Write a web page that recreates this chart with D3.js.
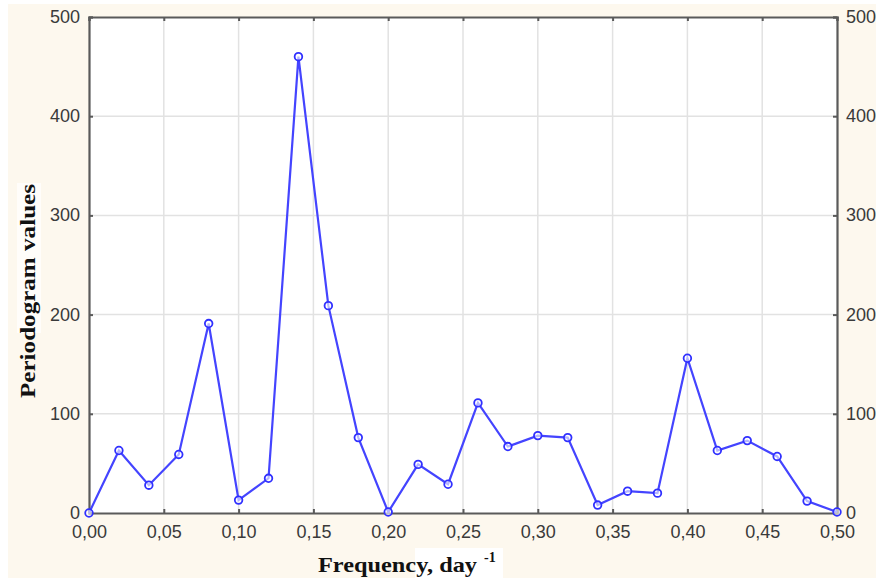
<!DOCTYPE html>
<html>
<head>
<meta charset="UTF-8"/>
<style>
  body { margin: 0; background: #fff; }
</style>
</head>
<body>
<script src="https://cdn.jsdelivr.net/npm/d3@7"></script>
<script>
// periodogram values
var freqs  = [0.00,0.02,0.04,0.06,0.08,0.10,0.12,0.14,0.16,0.18,0.20,0.22,0.24,0.26,
              0.28,0.30,0.32,0.34,0.36,0.38,0.40,0.42,0.44,0.46,0.48,0.50];
var values = [0,63,28,59,191,13,35,460,209,76,1,49,29,111,
              67,78,76,8,22,20,156,63,73,57,12,1];
var xTicks = [0,0.05,0.10,0.15,0.20,0.25,0.30,0.35,0.40,0.45,0.50];
var yTicks = [0,100,200,300,400,500];

var W = 876, H = 578;
// plot box (window.top is reserved, so use other names)
var plotL = 89, plotR = 837, plotT = 17, plotB = 513;

var svg = d3.select("body").append("svg")
    .attr("width", W)
    .attr("height", H);

// cream page background
svg.append("rect")
    .attr("x", 8).attr("y", 4)
    .attr("width", W - 8).attr("height", H - 4)
    .attr("fill", "#fdf8ee");

var x = d3.scaleLinear().domain([0, 0.5]).range([plotL, plotR]);
var y = d3.scaleLinear().domain([0, 500]).range([plotB, plotT]);

// plot area
svg.append("rect")
    .attr("x", plotL).attr("y", plotT)
    .attr("width", plotR - plotL).attr("height", plotB - plotT)
    .attr("fill", "#fff");

// grid
svg.append("g").selectAll("line")
    .data(xTicks.slice(1, -1))
    .enter().append("line")
      .attr("x1", function(d){ return x(d); })
      .attr("x2", function(d){ return x(d); })
      .attr("y1", plotT).attr("y2", plotB)
      .attr("stroke", "#e2e2e2").attr("stroke-width", 1.5);

svg.append("g").selectAll("line")
    .data(yTicks.slice(1, -1))
    .enter().append("line")
      .attr("y1", function(d){ return y(d); })
      .attr("y2", function(d){ return y(d); })
      .attr("x1", plotL).attr("x2", plotR)
      .attr("stroke", "#e2e2e2").attr("stroke-width", 1.5);

// axes
var fmt = function(d){ return d3.format(".2f")(d).replace(".", ","); };

var xAxisB = svg.append("g").attr("transform", "translate(0," + plotB + ")")
    .call(d3.axisBottom(x).tickValues(xTicks).tickFormat(fmt).tickSize(-4).tickPadding(12));
var xAxisT = svg.append("g").attr("transform", "translate(0," + plotT + ")")
    .call(d3.axisTop(x).tickValues(xTicks).tickFormat("").tickSize(-4));
var yAxisL = svg.append("g").attr("transform", "translate(" + plotL + ",0)")
    .call(d3.axisLeft(y).tickValues(yTicks).tickSize(-4).tickPadding(9));
var yAxisR = svg.append("g").attr("transform", "translate(" + plotR + ",0)")
    .call(d3.axisRight(y).tickValues(yTicks).tickSize(-4).tickPadding(9));

[xAxisB, xAxisT, yAxisL, yAxisR].forEach(function(a){
  a.select(".domain").attr("stroke", "#5a5a5a").attr("stroke-width", 2.2);
  a.selectAll(".tick line").attr("stroke", "#5a5a5a").attr("stroke-width", 2);
  a.selectAll(".tick text")
    .attr("fill", "#3a3a3a")
    .attr("font-family", "Liberation Sans, Arial, sans-serif")
    .attr("font-size", "18px");
});
xAxisB.selectAll(".tick text").attr("dy", "0.72em");
yAxisL.selectAll(".tick text").attr("dy", "0.3em");
yAxisR.selectAll(".tick text").attr("dy", "0.3em");

// line
var lineData = freqs.map(function(f, i){ return { f: f, v: values[i] }; });

var lineFunction = d3.line()
    .x(function(d){ return x(d.f); })
    .y(function(d){ return y(d.v); });

svg.append("path")
    .datum(lineData)
    .attr("fill", "none")
    .attr("stroke", "#4444ff")
    .attr("stroke-width", 2.2)
    .attr("d", lineFunction);

svg.selectAll("circle.pt")
    .data(lineData)
    .enter().append("circle")
      .attr("class", "pt")
      .attr("cx", function(d){ return x(d.f); })
      .attr("cy", function(d){ return y(d.v); })
      .attr("r", 3.8)
      .attr("fill", "#fff")
      .attr("fill-opacity", 0.6)
      .attr("stroke", "#3030ff")
      .attr("stroke-width", 1.8);

// axis titles
svg.append("rect")
    .attr("x", 415).attr("y", 548).attr("width", 88).attr("height", 30)
    .attr("fill", "#fff");

svg.append("text")
    .attr("x", 318).attr("y", 572)
    .attr("textLength", 159)
    .attr("lengthAdjust", "spacingAndGlyphs")
    .attr("font-family", "Liberation Serif, Times New Roman, serif")
    .attr("font-weight", "bold")
    .attr("font-size", "21px")
    .attr("fill", "#111")
    .text("Frequency, day");
svg.append("text")
    .attr("x", 484).attr("y", 562)
    .attr("font-family", "Liberation Serif, Times New Roman, serif")
    .attr("font-weight", "bold")
    .attr("font-size", "14px")
    .attr("fill", "#111")
    .text("-1");

svg.append("rect")
    .attr("x", 17).attr("y", 183).attr("width", 24).attr("height", 150)
    .attr("fill", "#fff").attr("fill-opacity", 0.7);

svg.append("text")
    .attr("transform", "translate(35,291) rotate(-90)")
    .attr("text-anchor", "middle")
    .attr("textLength", 214)
    .attr("lengthAdjust", "spacingAndGlyphs")
    .attr("font-family", "Liberation Serif, Times New Roman, serif")
    .attr("font-weight", "bold")
    .attr("font-size", "21px")
    .attr("fill", "#111")
    .text("Periodogram values");
</script>
</body>
</html>
